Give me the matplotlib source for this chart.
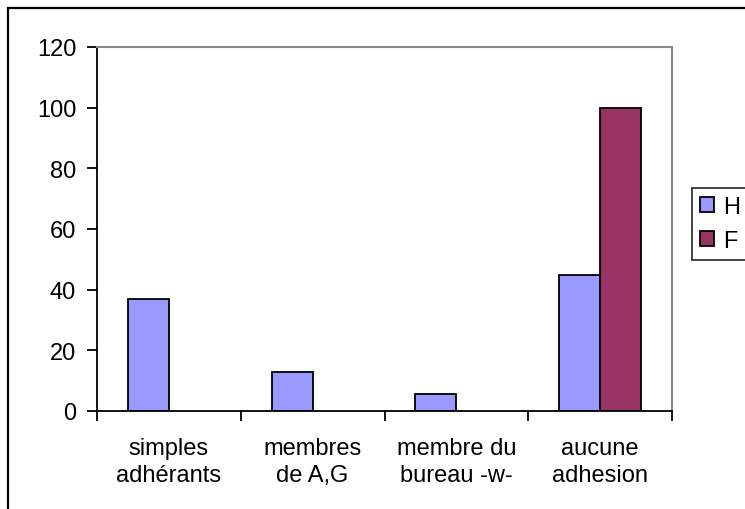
import numpy as np
import matplotlib
matplotlib.use("Agg")
import matplotlib.pyplot as plt
from matplotlib.patches import Rectangle

plt.rcParams['font.family'] = ['Liberation Sans', 'DejaVu Sans']

categories = ["simples\nadhérants", "membres\nde A,G", "membre du\nbureau -w-", "aucune\nadhesion"]
valeurs_h = [37, 13, 5.5, 45]
valeurs_f = [0, 0, 0, 100]
series = ["H", "F"]
couleurs = ["#9999FF", "#993366"]

fig = plt.figure(figsize=(7.45, 5.1), dpi=100)
ax = fig.add_axes([97 / 745, 1 - 412 / 510, 575 / 745, 364 / 510])

x = np.arange(len(categories))
w = 1 / 3.5
for i, (vals, nom, coul) in enumerate(zip([valeurs_h, valeurs_f], series, couleurs)):
    vals = np.array(vals, dtype=float)
    # les barres nulles ne sont pas tracées (pas de trait sur l'axe)
    lw = np.where(vals > 0, 1.3, 0)
    ax.bar(x + (i - 0.5) * w, vals, w, color=coul, edgecolor="black", linewidth=lw, label=nom)

ax.set_xlim(-0.5, len(categories) - 0.5)
ax.set_ylim(0, 120)
ax.set_yticks(np.arange(0, 121, 20))
ax.set_xticks(x)
ax.set_xticklabels(categories, fontsize=17, linespacing=1.25)
ax.set_xticks(np.arange(-0.5, len(categories)), minor=True)
ax.tick_params(axis="x", which="major", length=0, pad=19)
ax.tick_params(axis="x", which="minor", length=7, width=1.3, direction="out")
ax.tick_params(axis="y", labelsize=17, length=7, width=1.3, direction="out", pad=8)

for side in ["top", "right"]:
    ax.spines[side].set_color("#888888")
    ax.spines[side].set_linewidth(1.5)
for side in ["left", "bottom"]:
    ax.spines[side].set_color("black")
    ax.spines[side].set_linewidth(1.3)

leg = fig.legend(loc="upper left", bbox_to_anchor=(692 / 745, 1 - 189 / 510),
                 fontsize=17, frameon=True, fancybox=False, edgecolor="black",
                 handlelength=0.6, handleheight=0.6, handletextpad=0.35,
                 borderpad=0.35, labelspacing=0.5, borderaxespad=0)
leg.get_frame().set_linewidth(1.3)
for h in leg.legend_handles:
    h.set_linewidth(1.3)

# cadre extérieur du graphique
fig.patches.append(Rectangle((8 / 745, -0.1), 1.2, 1.1 - 9 / 510, transform=fig.transFigure,
                             fill=False, edgecolor="black", linewidth=1.6))

fig.savefig("out.png", dpi=100)
